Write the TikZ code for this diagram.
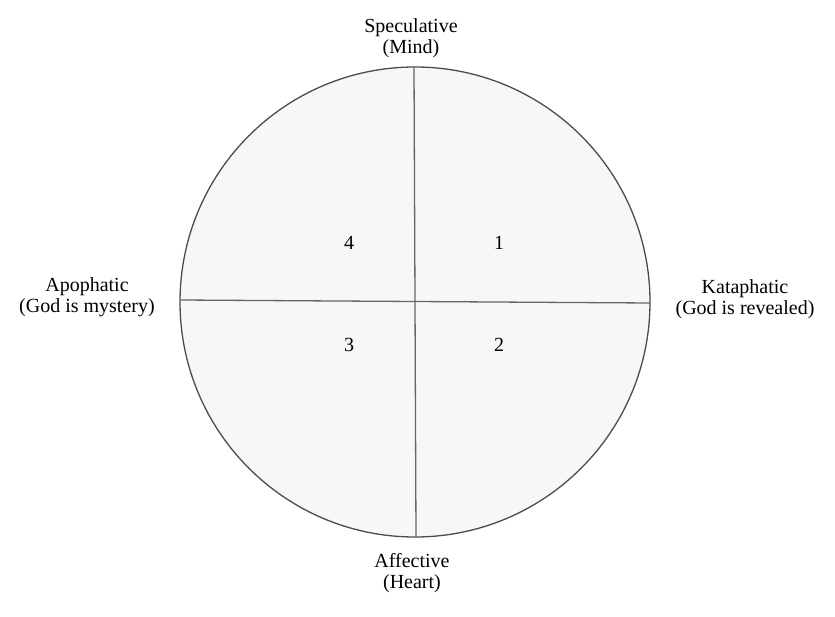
\documentclass[tikz,border=0pt]{standalone}
\usepackage{fontspec}
\setmainfont{Liberation Serif}
\begin{document}
\begin{tikzpicture}[x=1pt, y=-1pt, line width=1.3pt,
  every node/.style={font=\fontsize{20}{20.5}\selectfont, align=center, text=black},
  rim/.style={draw=black!70, fill=black!3},
  axis/.style={draw=black!60}]
	% ------------------ 边界 ------------------
	\useasboundingbox (0,0) rectangle (835,617);
	
	% ------------------ 圆与轴 ------------------
	\coordinate (O) at (415,302);
	\draw[rim] (O) circle (235);
	\coordinate (top) at (414,67);
	\coordinate (bottom) at (416,537);
	\coordinate (left) at (180,300);
	\coordinate (right) at (650,303);
	\draw[axis] (top) -- (bottom);
	\draw[axis] (left) -- (right);
	
	% ------------------ 标签 ------------------
	\node (spec) at (411,38) {Speculative\\(Mind)};
	\node (apo) at (87,297) {Apophatic\\(God is mystery)};
	\node (kata) at (745,299) {Kataphatic\\(God is revealed)};
	\node (aff) at (412,573) {Affective\\(Heart)};
	
	% ------------------ 象限编号 ------------------
	\node (q4) at (349,243) {4};
	\node (q1) at (499,243) {1};
	\node (q3) at (349,345) {3};
	\node (q2) at (499,345) {2};
\end{tikzpicture}
\end{document}
